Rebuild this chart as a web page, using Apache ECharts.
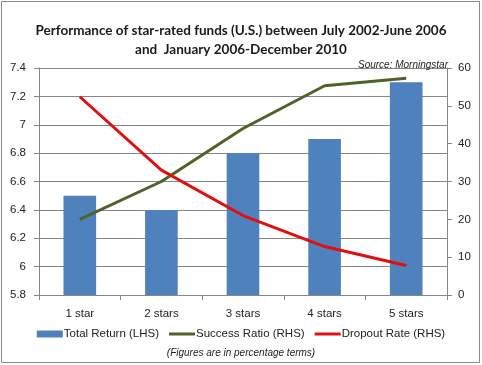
<!DOCTYPE html>
<html><head><meta charset="utf-8">
<script src="https://cdn.jsdelivr.net/npm/echarts@6/dist/echarts.min.js"></script>
<style>html,body{margin:0;padding:0;background:#fff}#c{width:482px;height:365px}</style>
</head><body><div id="c"></div>
<script>
const categories = ['1 star', '2 stars', '3 stars', '4 stars', '5 stars'];
const totalReturn = [6.5, 6.4, 6.8, 6.9, 7.3];
const successRatio = [20, 30, 44, 55.3, 57.3];
const dropoutRate = [52.4, 33, 21, 12.8, 7.8];
const leftTicks = { min: 5.8, max: 7.4, interval: 0.2 };
const rightTicks = { min: 0, max: 60, interval: 10 };

const axisFont = 'Liberation Sans';
const gray = '#868686';
const lineIcon = 'path://M0 0H260V30H0Z';
const chart = echarts.init(document.getElementById('c'), null, { renderer: 'canvas' });
chart.setOption({
  animation: false,
  backgroundColor: '#fff',
  title: [{
    text: 'Performance of star-rated funds (U.S.) between July 2002-June 2006\nand  January 2006-December 2010',
    left: 'center', top: 16,
    textStyle: { fontFamily: 'Lato', fontWeight: 'bold', fontSize: 13.5, lineHeight: 19, color: '#1a1a1a', align: 'center' }
  }, {
    text: 'Source: Morningstar',
    right: 29, top: 55,
    textStyle: { fontFamily: axisFont, fontStyle: 'italic', fontWeight: 'normal', fontSize: 10, color: '#222' }
  }, {
    text: '(Figures are in percentage terms)',
    left: 'center', top: 343,
    textStyle: { fontFamily: axisFont, fontStyle: 'italic', fontWeight: 'normal', fontSize: 10, color: '#222' }
  }],
  graphic: [{
    type: 'rect', shape: { x: 1.5, y: 1.5, width: 478, height: 361 },
    style: { fill: 'none', stroke: '#8a8a8a', lineWidth: 1 }, silent: true
  }],
  legend: {
    bottom: 20, left: 'center',
    itemWidth: 26, itemHeight: 7, itemGap: 10,
    textStyle: { fontFamily: axisFont, fontSize: 11.5, color: '#222', padding: [0, 0, 0, -4] },
    data: [
      { name: 'Total Return (LHS)', icon: 'rect' },
      { name: 'Success Ratio (RHS)', icon: lineIcon },
      { name: 'Dropout Rate (RHS)', icon: lineIcon }
    ]
  },
  grid: { left: 39, right: 35, top: 68, bottom: 70, containLabel: false },
  xAxis: {
    type: 'category', data: categories, boundaryGap: true,
    axisLine: { lineStyle: { color: gray } },
    axisTick: { show: true, length: 5, inside: false, lineStyle: { color: gray } },
    axisLabel: { fontFamily: axisFont, fontSize: 11.5, color: '#222', margin: 13 }
  },
  yAxis: [{
    type: 'value', position: 'left', min: leftTicks.min, max: leftTicks.max, interval: leftTicks.interval,
    axisLine: { show: true, lineStyle: { color: gray } },
    axisTick: { show: true, length: 5, lineStyle: { color: gray } },
    splitLine: { show: true, lineStyle: { color: gray, width: 1 } },
    axisLabel: { fontFamily: axisFont, fontSize: 11.5, color: '#222', margin: 13,
      formatter: v => String(+v.toFixed(1)) }
  }, {
    type: 'value', position: 'right', min: rightTicks.min, max: rightTicks.max, interval: rightTicks.interval,
    axisLine: { show: true, lineStyle: { color: gray } },
    axisTick: { show: true, length: 5, lineStyle: { color: gray } },
    splitLine: { show: false },
    axisLabel: { fontFamily: axisFont, fontSize: 11.5, color: '#222', margin: 11 }
  }],
  series: [{
    name: 'Total Return (LHS)', type: 'bar', yAxisIndex: 0, data: totalReturn,
    barWidth: '40%', itemStyle: { color: '#4F81BD' }
  }, {
    name: 'Success Ratio (RHS)', type: 'line', yAxisIndex: 1, data: successRatio,
    symbol: 'none', lineStyle: { color: '#4F6228', width: 3 }, itemStyle: { color: '#4F6228' }
  }, {
    name: 'Dropout Rate (RHS)', type: 'line', yAxisIndex: 1, data: dropoutRate,
    symbol: 'none', lineStyle: { color: '#E01010', width: 3 }, itemStyle: { color: '#E01010' }
  }]
});
</script></body></html>
